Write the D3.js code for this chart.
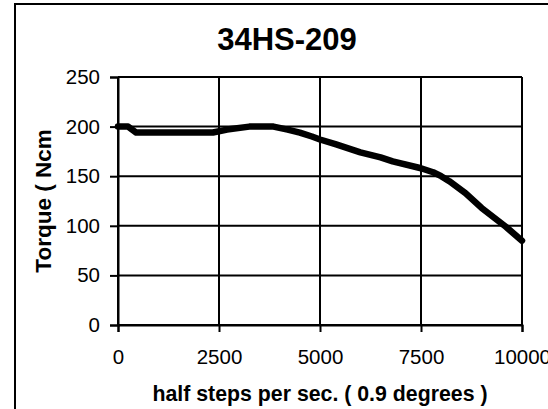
<!DOCTYPE html>
<html>
<head>
<meta charset="UTF-8">
<title>34HS-209</title>
<script src="https://d3js.org/d3.v7.min.js"></script>
<style>
  body { margin: 0; background: #fff; }
  svg { display: block; font-family: "Liberation Sans", Arial, sans-serif; }
</style>
</head>
<body>
<svg id="chart" width="548" height="409"></svg>
<script>
  // speed (half steps / s) and torque (Ncm)
  const speed  = [0, 250, 450, 2350, 2700, 3250, 3850, 4200, 4500, 4800, 5000, 5400, 6000, 6500, 6800, 7500, 7800, 8000, 8200, 8600, 9000, 9600, 10000];
  const torque = [200, 200, 194, 194, 197, 200, 200, 197, 194, 190, 187, 182, 174, 169, 165, 158, 154, 150, 145, 133, 118, 99, 85];
  const xTicks = [0, 2500, 5000, 7500, 10000];
  const yTicks = [0, 50, 100, 150, 200, 250];

  const svg = d3.select('#chart');

  // outer frame (runs off the right and bottom edges)
  svg.append('rect')
    .attr('x', 15).attr('y', 4)
    .attr('width', 545).attr('height', 420)
    .attr('fill', 'none').attr('stroke', '#000').attr('stroke-width', 2);

  const x = d3.scaleLinear().domain([0, 10000]).range([118, 522]);
  const y = d3.scaleLinear().domain([0, 250]).range([325, 77]);

  // grid
  svg.append('g').selectAll('line').data(yTicks).enter().append('line')
    .attr('x1', x(0)).attr('x2', x(10000))
    .attr('y1', d => y(d)).attr('y2', d => y(d))
    .attr('stroke', '#000').attr('stroke-width', 2);
  svg.append('g').selectAll('line').data(xTicks).enter().append('line')
    .attr('x1', d => x(d)).attr('x2', d => x(d))
    .attr('y1', y(0)).attr('y2', y(250))
    .attr('stroke', '#000').attr('stroke-width', 2);

  // axes
  const yAxis = svg.append('g')
    .attr('transform', `translate(${x(0)},0)`)
    .call(d3.axisLeft(y).tickValues(yTicks).tickSize(8).tickPadding(10));
  const xAxis = svg.append('g')
    .attr('transform', `translate(0,${y(0)})`)
    .call(d3.axisBottom(x).tickValues(xTicks).tickSize(7).tickPadding(17).tickFormat(d3.format('d')));

  [xAxis, yAxis].forEach(a => {
    a.select('.domain').attr('stroke', '#000').attr('stroke-width', 2);
    a.selectAll('.tick line').attr('stroke', '#000').attr('stroke-width', 2);
    a.selectAll('.tick text').attr('fill', '#000').style('font-size', '20.5px');
  });

  // curve
  const pts = speed.map((s, i) => [s, torque[i]]);
  svg.append('path')
    .datum(pts)
    .attr('d', d3.line().x(d => x(d[0])).y(d => y(d[1])))
    .attr('fill', 'none')
    .attr('stroke', '#000')
    .attr('stroke-width', 6.5)
    .attr('stroke-linejoin', 'round')
    .attr('stroke-linecap', 'round');

  // texts
  svg.append('text')
    .attr('x', 287).attr('y', 50)
    .attr('text-anchor', 'middle')
    .style('font-size', '31px').style('font-weight', 'bold')
    .text('34HS-209');

  svg.append('text')
    .attr('x', 320).attr('y', 401)
    .attr('text-anchor', 'middle')
    .style('font-size', '21.3px').style('font-weight', 'bold')
    .text('half steps per sec. ( 0.9 degrees )');

  svg.append('text')
    .attr('transform', 'translate(51,201) rotate(-90)')
    .attr('text-anchor', 'middle')
    .style('font-size', '22.5px').style('font-weight', 'bold')
    .text('Torque ( Ncm');
</script>
</body>
</html>
